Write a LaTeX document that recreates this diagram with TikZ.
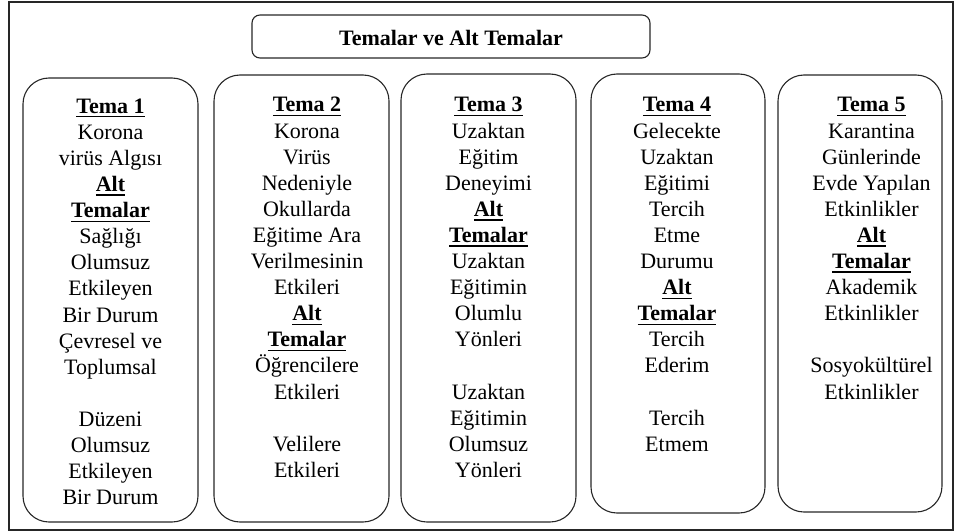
\documentclass[tikz,border=0pt]{standalone}
\usepackage{fontspec}
\setmainfont{Liberation Serif}
\newcommand\undl[1]{\setbox0\hbox{\textbf{#1}}\rlap{\rule[-4.2pt]{\wd0}{1.3pt}}\box0}
\begin{document}
\begin{tikzpicture}[x=1pt,y=-1pt,
  frame/.style={draw=black!85, line width=1.1pt},
  colbox/.style={draw=black!85, line width=1.1pt, rounded corners=26pt, inner sep=0pt},
  titlebox/.style={draw=black!85, line width=1.1pt, rounded corners=8pt, inner sep=0pt},
  coltext/.style={anchor=north, inner sep=0pt, align=center, font=\fontsize{22pt}{26.1pt}\selectfont}]
\useasboundingbox (0,0) rectangle (955,532);
\draw[frame] (9,2) rectangle (953,530);
\node[titlebox, minimum width=398pt, minimum height=43pt] (title) at (451,36.5) {};
\node[font=\fontsize{22pt}{26.1pt}\selectfont\bfseries, inner sep=0pt] (titletext) at (451,38) {Temalar ve Alt Temalar};
\node[colbox, minimum width=175pt, minimum height=444pt] (b1) at (110.5,300) {};
\node[colbox, minimum width=175pt, minimum height=447pt] (b2) at (301.5,298.5) {};
\node[colbox, minimum width=175pt, minimum height=448pt] (b3) at (488.5,298) {};
\node[colbox, minimum width=174pt, minimum height=439pt] (b4) at (678,293.5) {};
\node[colbox, minimum width=164pt, minimum height=437pt] (b5) at (860,293.5) {};
\node[coltext] (t1) at (110.5,97) {\rule{0pt}{16pt}\undl{Tema 1}\\Korona\\virüs Algısı\\\undl{Alt}\\\undl{Temalar}\\Sağlığı\\Olumsuz\\Etkileyen\\Bir Durum\\Çevresel ve\\Toplumsal\\~\\Düzeni\\Olumsuz\\Etkileyen\\Bir Durum};
\node[coltext] (t2) at (307,95.7) {\rule{0pt}{16pt}\undl{Tema 2}\\Korona\\Virüs\\Nedeniyle\\Okullarda\\Eğitime Ara\\Verilmesinin\\Etkileri\\\undl{Alt}\\\undl{Temalar}\\Öğrencilere\\Etkileri\\~\\Velilere\\Etkileri};
\node[coltext] (t3) at (488.5,95.7) {\rule{0pt}{16pt}\undl{Tema 3}\\Uzaktan\\Eğitim\\Deneyimi\\\undl{Alt}\\\undl{Temalar}\\Uzaktan\\Eğitimin\\Olumlu\\Yönleri\\~\\Uzaktan\\Eğitimin\\Olumsuz\\Yönleri};
\node[coltext] (t4) at (677,95.7) {\rule{0pt}{16pt}\undl{Tema 4}\\Gelecekte\\Uzaktan\\Eğitimi\\Tercih\\Etme\\Durumu\\\undl{Alt}\\\undl{Temalar}\\Tercih\\Ederim\\~\\Tercih\\Etmem};
\node[coltext] (t5) at (871.5,95.7) {\rule{0pt}{16pt}\undl{Tema 5}\\Karantina\\Günlerinde\\Evde Yapılan\\Etkinlikler\\\undl{Alt}\\\undl{Temalar}\\Akademik\\Etkinlikler\\~\\Sosyokültürel\\Etkinlikler};
\end{tikzpicture}
\end{document}
